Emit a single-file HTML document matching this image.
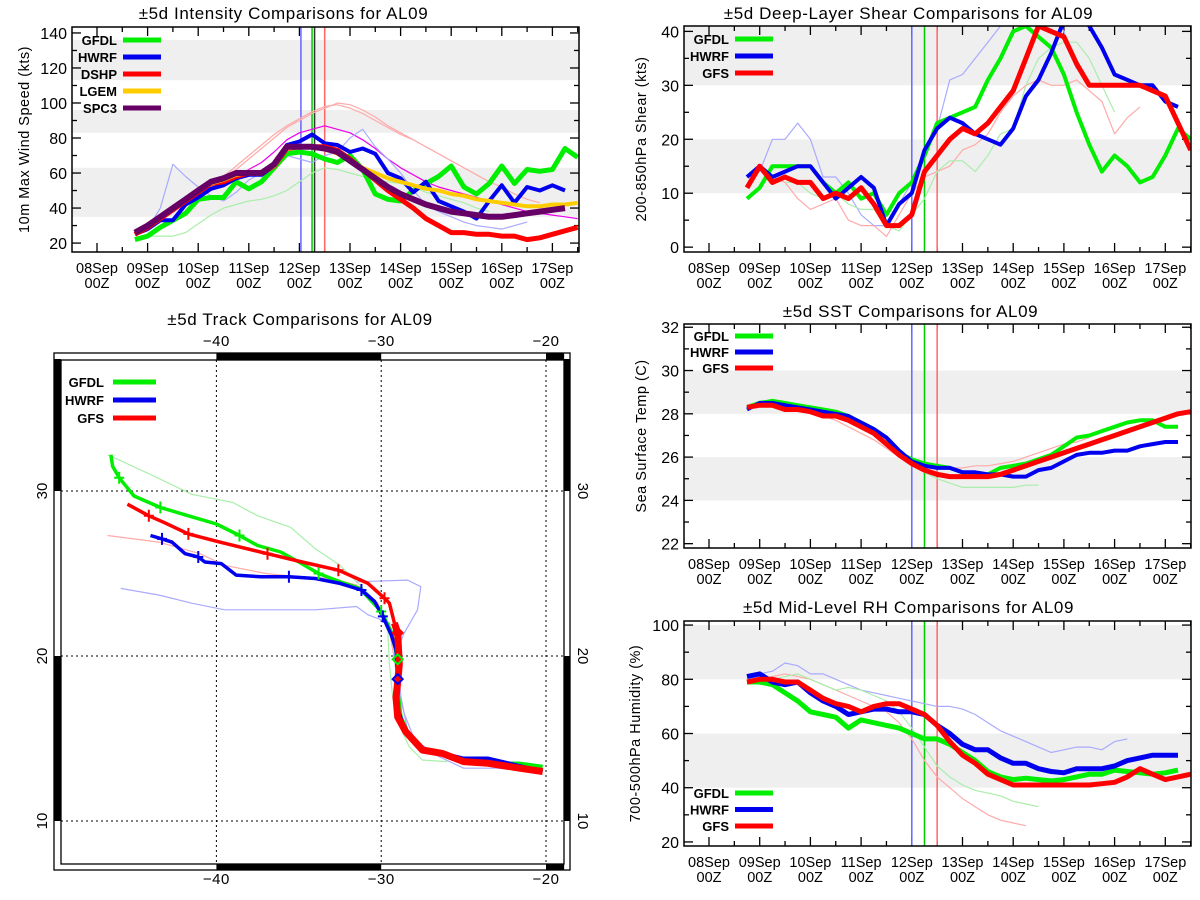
<!DOCTYPE html>
<html><head><meta charset="utf-8"><style>
html,body{margin:0;padding:0;background:#fff;}
svg{display:block;font-family:"Liberation Sans",sans-serif;}
</style></head><body>
<svg id="root" width="1200" height="900" viewBox="0 0 1200 900" xmlns="http://www.w3.org/2000/svg"></svg>
<script>
// ---------- Intensity data (days since 08Sep 00Z, 6h steps) ----------
const intStart = 0.75;
const gfdlInt = [22,24,29,33,37,45,46,46,55,51,55,63,71,72,71,68,66,70,62,48,45,44,50,54,58,64,52,48,54,64,54,62,61,62,74,69];
const hwrfInt = [25,28,33,33,42,46,51,53,57,59,59,64,76,78,82,77,76,72,74,71,60,57,49,55,44,41,38,34,44,53,43,52,50,53,50];
const dshpInt = [25,29,34,39,44,49,54,55,58,60,60,64,74,75,75,75,73,68,62,56,50,45,40,34,30,26,26,25,25,24,24,22,23,25,27,29];
const lgemStart = 2.0;
const lgemInt = [50,54,56,59,60,60,64,74,75,75,74,71,67,63,60,57,55,53,51,50,48,47,45,44,43,42,41,41,42,42,43];
const spc3Int = [26,30,35,40,45,50,55,57,60,60,60,65,75,75,75,74,72,67,62,57,52,48,45,42,40,38,37,36,35,35,36,37,38,39,40];
const faintIntRed1 = [47,52,58,64,70,76,82,87,91,95,98,99,97,94,90,86,82,79];
const faintIntRed2 = [50,56,62,68,74,80,86,90,94,97,100,99,96,92,87,83,79,75,71,67,63,59,55,52,48,45,43];
const faintIntMag = [50,55,58,62,66,72,79,83,85,87,85,83,79,74,68,63,59,55,52,50,48,46,44,42,40,38,37,36,35,34];
const faintIntBlue = [28,40,65,58,52,47,44,49,56,60,65,70,68,66,70,72,80,85,75,68,60,50,42,38,35,32,30,29,28,30,32];
const faintIntGreen = [24,24,24,26,31,36,40,42,44,45,47,50,55,60,63,62,60,58,56,55,54,52,49,47,45,43,40,38];
// ---------- Shear data ----------
const shearStart = 0.75;
const gfdlShear = [9,11,15,15,15,15,12,10,12,9,10,6,10,12,17,23,24,25,26,31,35,40,41,39,37,32,25,19,14,17,15,12,13,17,22,20];
const hwrfShear = [13,15,13,14,15,15,12,9,11,13,11,4,8,10,18,22,24,23,21,20,19,22,28,31,36,42,46,41,37,32,31,30,30,27,26];
const gfsShear = [11,15,12,13,12,12,9,10,9,11,8,4,4,6,14,17,20,22,21,23,26,29,35,41,40,39,34,30,30,30,30,30,29,28,23,18];
const faintShearBlue = [14,20,20,23,20,13,13,10,6,4,4,8,12,18,22,31,32,35,38,41,44,46,47,44,40,33];
const faintShearRed = [13,12,9,7,8,9,5,4,4,2,6,10,13,14,15,18,19,21,25,28,30,31,30,30,31,29,27,21,24,26];
const faintShearGreen = [12,12,10,9,10,8,7,7,4,3,6,9,14,16,16,14,17,21,22,30,35,37,38,38,35,30,25];
// ---------- SST data ----------
const sstStart = 0.75;
const gfdlSst = [28.3,28.5,28.6,28.5,28.4,28.3,28.2,28.1,27.9,27.6,27.3,26.9,26.2,25.9,25.7,25.6,25.5,25.3,25.2,25.2,25.5,25.6,25.7,25.9,26.1,26.5,26.9,27.0,27.2,27.4,27.6,27.7,27.7,27.4,27.4];
const hwrfSst = [28.2,28.5,28.5,28.4,28.3,28.2,28.1,28.0,27.9,27.6,27.3,26.9,26.3,25.8,25.6,25.5,25.5,25.3,25.3,25.2,25.2,25.1,25.1,25.4,25.5,25.8,26.1,26.2,26.2,26.3,26.3,26.5,26.6,26.7,26.7];
const gfsSst = [28.3,28.4,28.4,28.2,28.2,28.1,27.9,27.9,27.7,27.4,27.1,26.6,26.1,25.7,25.4,25.2,25.1,25.1,25.1,25.1,25.2,25.4,25.6,25.8,26.0,26.2,26.4,26.6,26.8,27.0,27.2,27.4,27.6,27.8,28.0,28.1];
const faintSstGreen = [28.4,28.6,28.6,28.5,28.4,28.3,28.2,28.1,27.9,27.6,27.2,26.6,26.0,25.6,25.3,25.0,24.8,24.6,24.6,24.6,24.6,24.6,24.7,24.7];
const faintSstRed = [28.3,28.4,28.3,28.2,28.1,27.9,27.7,27.4,27.1,26.8,26.4,26.0,25.8,25.6,25.5,25.5,25.5,25.6,25.6,25.7,25.8,26.0,26.2,26.4,26.6,26.7,26.9];
// ---------- RH data ----------
const rhStart = 0.75;
const gfdlRh = [79,79,78,75,72,68,67,66,62,65,64,63,62,60,58,58,56,53,50,46,44,43,43.5,43,42.5,43,44,45,45,46.5,46,45.5,45,45.5,46.5];
const hwrfRh = [81,82,79,78,79,75,72,70,67,68,69,69,68,68,67,63,60,56,54,54,51,49,49,47,46,45.5,47,47,47,48,50,51,52,52,52];
const gfsRh = [79,80,80,79,79,76,73,71,70,68,70,71,71,69,67,63,57,52,49,45,43,41,41,41,41,41,41,41,41.5,42,44,47,45,43,44,45];
const faintRhBlue = [82,83,86,85,82,82,80,78,76,75,74,73,72,71,70,70,69,67,64,61,59,57,55,53,54,55,55,54,57,58];
const faintRhRed = [80,81,82,81,80,78,76,74,72,70,68,64,58,50,44,40,36,33,30,28,27,26];
const faintRhGreen = [79,80,81,82,80,78,76,77,76,74,72,68,62,55,48,44,41,39,38,37,35,34,33];
// ---------- Track data (lon, lat) ----------
const gfdlLon = [-46.4,-46.3,-45.9,-45.0,-43.4,-41.7,-40.0,-38.6,-37.5,-36.1,-35.0,-33.8,-32.5,-31.3,-30.0,-29.4,-29.0,-29.0,-28.8,-28.3,-27.5,-26.3,-25.0,-23.5,-21.6,-20.2];
const gfdlLat = [32.2,31.5,30.8,29.7,29.0,28.5,28.0,27.3,26.7,26.3,25.7,25.0,24.5,24.1,22.7,21.5,19.8,17.9,16.3,15.2,14.4,14.2,13.6,13.5,13.5,13.3];
const hwrfLon = [-44.0,-43.3,-42.7,-41.9,-41.1,-40.7,-39.7,-38.8,-37.3,-35.6,-34.0,-32.5,-31.2,-30.4,-29.9,-29.4,-29.1,-29.0,-29.0,-28.5,-27.5,-26.2,-25.0,-23.5,-21.8,-20.2];
const hwrfLat = [27.3,27.1,26.9,26.2,26.0,25.7,25.6,24.9,24.8,24.8,24.7,24.4,24.0,23.3,22.4,21.3,20.4,18.6,16.8,15.4,14.3,14.1,13.8,13.8,13.4,13.0];
const gfsLon = [-45.4,-44.1,-43.2,-41.7,-39.8,-36.9,-34.8,-32.6,-30.8,-29.8,-29.5,-29.2,-29.0,-28.9,-29.0,-29.1,-29.0,-28.5,-27.5,-26.3,-25.0,-23.5,-21.6,-20.2];
const gfsLat = [29.2,28.5,28.1,27.4,26.9,26.2,25.7,25.2,24.4,23.5,23.2,22.0,21.4,19.5,18.4,17.5,16.3,15.4,14.3,14.1,13.6,13.5,13.2,13.0];
const faintTrkGreenLon = [-46.6,-44,-41.5,-39,-37.5,-35.5,-34,-32.5,-31.5,-30.5,-30,-29.6,-29.5,-29.3,-28.9,-28.3,-27.5,-26];
const faintTrkGreenLat = [32.2,31,29.8,29.3,28.5,27.8,26.5,25.5,24.5,23.5,22.5,21.5,19.5,17.5,15.8,14.5,13.7,13.6];
const faintTrkRedLon = [-46.6,-43.5,-41,-39.5,-37,-35,-33,-31.5,-30.2,-29.5,-29.2,-29.0];
const faintTrkRedLat = [27.3,26.9,26.2,25.5,25.0,24.8,24.7,24.3,23.2,21.5,19.8,18.2];
const faintTrkBlueLon = [-45.8,-43.5,-41.5,-39.5,-37,-34,-31.5,-30.8,-29.5,-29.0,-28.8,-28.4,-27.5,-26.5,-25,-23,-20.5];
const faintTrkBlueLat = [24.1,23.7,23.2,22.8,22.8,22.8,23.0,22.5,22.0,19.5,17.5,15.5,14.6,13.9,13.2,13.2,13.0];
const faintTrkBlue2Lon = [-31.5,-28.4,-27.6,-27.8,-28.6,-29.2,-29.0,-28.6,-28.0];
const faintTrkBlue2Lat = [24.5,24.6,24.2,22.8,21.4,20.0,18.0,16.5,15.0];
const gfdlMarkIdx = [2,4,7,11,14];
const hwrfMarkIdx = [1,4,9,12,14];
const gfsMarkIdx = [1,3,5,7,9];

const NS = "http://www.w3.org/2000/svg";
const root = document.getElementById('root');
function el(tag, attrs, parent){
  const e = document.createElementNS(NS, tag);
  for (const k in attrs) e.setAttribute(k, attrs[k]);
  (parent||root).appendChild(e);
  return e;
}
function txt(s, attrs, parent){ const t = el('text', attrs, parent); t.textContent = s; return t; }

let clipId = 0;
function makePanel(p){
  const g = el('g', {});
  
  
  const xs = d => p.xd0 + d * p.ppd;
  const ys = v => p.y1 - (v - p.ymin) / (p.ymax - p.ymin) * (p.y1 - p.y0);
  p.bands.forEach(b => {
    const r = el('rect', {x:p.x0, y:ys(Math.min(b[1],p.ymax)), width:p.x1-p.x0, height:ys(b[0])-ys(Math.min(b[1],p.ymax)), fill:'#efefef'}, g);
    
    
  });
  const t = txt(p.title, {x:(p.x0+p.x1)/2+p.tdx, y:p.ty, 'text-anchor':'middle', 'font-size':17, 'letter-spacing':'0.6'}, g);
  
  
  const cy = (p.y0+p.y1)/2;
  const yt = txt(p.ylabel, {x:p.ylx, y:cy, 'text-anchor':'middle', 'font-size':14.5, 'letter-spacing':'0.5', transform:`rotate(-90 ${p.ylx} ${cy})`}, g);
  
  
  const half = p.ystep/2;
  for (let k = Math.ceil(p.ymin/half - 1e-6); k*half <= p.ymax + 1e-6; k++){
    const v = k*half;
    const major = (k % 2 === 0);
    const L = major ? 9 : 5; const y = ys(v);
    el('line', {x1:p.x0, x2:p.x0+L, y1:y, y2:y, stroke:'#000', 'stroke-width':1.3}, g);
    el('line', {x1:p.x1, x2:p.x1-L, y1:y, y2:y, stroke:'#000', 'stroke-width':1.3}, g);
    if (major){
      const lb = txt(String(Math.round(v)), {x:p.x0-5, y:y+6, 'text-anchor':'end', 'font-size':16}, g);
      
      
    }
  }
  const days = ['08Sep','09Sep','10Sep','11Sep','12Sep','13Sep','14Sep','15Sep','16Sep','17Sep'];
  for (let d = -0.5; d <= 9.5; d += 0.5){
    const x = xs(d); if (x < p.x0 || x > p.x1) continue;
    const major = Number.isInteger(d); const L = major ? 9 : 5;
    el('line', {x1:x, x2:x, y1:p.y1, y2:p.y1-L, stroke:'#000', 'stroke-width':1.3}, g);
    el('line', {x1:x, x2:x, y1:p.y0, y2:p.y0+L, stroke:'#000', 'stroke-width':1.3}, g);
  }
  days.forEach((s, i) => {
    const x = xs(i);
    const a = txt(s, {x:x, y:p.y1+21, 'text-anchor':'middle', 'font-size':14.5}, g);
    
    
    const b = txt('00Z', {x:x, y:p.y1+36, 'text-anchor':'middle', 'font-size':14.5}, g);
    
    
  });
  clipId++;
  const cp = el('clipPath', {id:'c'+clipId}, g);
  el('rect', {x:p.x0, y:p.y0, width:p.x1-p.x0, height:p.y1-p.y0}, cp);
  const plot = el('g', {'clip-path':`url(#c${clipId})`}, g);
  
  
  p.vlines.forEach(v => {
    const l = el('line', {x1:xs(v[0]), x2:xs(v[0]), y1:p.y0, y2:p.y1, stroke:v[1], 'stroke-width':1.5}, plot);
    
    
  });
  p.series.forEach(s => {
    const pts = s.v.map((v, i) => `${xs(s.start + i*0.25).toFixed(1)},${ys(v).toFixed(1)}`).join(' ');
    const pl = el('polyline', {points:pts, fill:'none', stroke:s.c, 'stroke-width':s.w, 'stroke-linejoin':'round', opacity:s.o||1}, plot);
    
    
  });
  el('rect', {x:p.x0, y:p.y0, width:p.x1-p.x0, height:p.y1-p.y0, fill:'none', stroke:'#000', 'stroke-width':1.5}, g);
  p.legend.forEach((L, i) => {
    const y = p.ly + i*p.ldy;
    const lt = txt(L[0], {x:p.lx, y:y+5, 'text-anchor':'end', 'font-size':13, 'font-weight':'bold'}, g);
    
    
    const ll = el('line', {x1:p.lx+6, x2:p.lx+44, y1:y, y2:y, stroke:L[1], 'stroke-width':5}, g);
    
    
  });
}

const G='#00ee00', B='#0000ee', R='#ff0000', O='#ffcc00', P='#660066';
makePanel({name:'intensity-panel', x0:72, x1:579, y0:27, y1:252, xd0:97, ppd:50.6, ymin:14.9, ymax:143.4, ystep:20,
  title:'±5d Intensity Comparisons for AL09', tdx:-42, ty:19, ylabel:'10m Max Wind Speed (kts)', ylx:29,
  bands:[[35,63],[83,96],[113,136]], vlines:[[4.03,'#6666ff'],[4.25,'#00cc00'],[4.3,'#333'],[4.5,'#ff6666']],
  series:[
    {n:'faint-dshp-member', start:2.0, v:faintIntRed1, c:'#ffaaaa', w:1.2},
    {n:'faint-dshp-member', start:2.25, v:faintIntRed2, c:'#ffaaaa', w:1.2},
    {n:'faint-spc3-member', start:2.25, v:faintIntMag, c:'#ee00ee', w:1.2},
    {n:'faint-hwrf-member', start:1.0, v:faintIntBlue, c:'#aaaaff', w:1.2},
    {n:'faint-gfdl-member', start:1.0, v:faintIntGreen, c:'#aaeeaa', w:1.2},
    {n:'gfdl-intensity-line', start:intStart, v:gfdlInt, c:G, w:5},
    {n:'hwrf-intensity-line', start:intStart, v:hwrfInt, c:B, w:4},
    {n:'dshp-intensity-line', start:intStart, v:dshpInt, c:R, w:5},
    {n:'lgem-intensity-line', start:lgemStart, v:lgemInt, c:O, w:4},
    {n:'spc3-intensity-line', start:intStart, v:spc3Int, c:P, w:6}],
  legend:[['GFDL',G],['HWRF',B],['DSHP',R],['LGEM',O],['SPC3',P]], lx:117, ly:40, ldy:17});
makePanel({name:'shear-panel', x0:684, x1:1191, y0:26, y1:252, xd0:709, ppd:50.7, ymin:-0.9, ymax:41.0, ystep:10,
  title:'±5d Deep-Layer Shear Comparisons for AL09', tdx:-29, ty:19, ylabel:'200-850hPa Shear (kts)', ylx:646,
  bands:[[10,20],[30,41]], vlines:[[4.0,'#6666ff'],[4.25,'#00cc00'],[4.5,'#ff6666']],
  series:[
    {n:'faint-hwrf-member', start:1.0, v:faintShearBlue, c:'#aaaaff', w:1.2},
    {n:'faint-gfs-member', start:1.25, v:faintShearRed, c:'#ffaaaa', w:1.2},
    {n:'faint-gfdl-member', start:1.5, v:faintShearGreen, c:'#aaeeaa', w:1.2},
    {n:'gfdl-shear-line', start:shearStart, v:gfdlShear, c:G, w:4},
    {n:'hwrf-shear-line', start:shearStart, v:hwrfShear, c:B, w:4},
    {n:'gfs-shear-line', start:shearStart, v:gfsShear, c:R, w:5}],
  legend:[['GFDL',G],['HWRF',B],['GFS',R]], lx:729, ly:39, ldy:17});
makePanel({name:'sst-panel', x0:684, x1:1191, y0:324, y1:548, xd0:709, ppd:50.7, ymin:21.8, ymax:32.15, ystep:2,
  title:'±5d SST Comparisons for AL09', tdx:-27, ty:317, ylabel:'Sea Surface Temp (C)', ylx:646,
  bands:[[24,26],[28,30]], vlines:[[4.0,'#6666ff'],[4.25,'#00cc00'],[4.5,'#ff6666']],
  series:[
    {n:'faint-gfdl-member', start:0.75, v:faintSstGreen, c:'#aaeeaa', w:1.2},
    {n:'faint-gfs-member', start:1.0, v:faintSstRed, c:'#ffaaaa', w:1.2},
    {n:'gfdl-sst-line', start:sstStart, v:gfdlSst, c:G, w:4},
    {n:'hwrf-sst-line', start:sstStart, v:hwrfSst, c:B, w:4},
    {n:'gfs-sst-line', start:sstStart, v:gfsSst, c:R, w:5}],
  legend:[['GFDL',G],['HWRF',B],['GFS',R]], lx:729, ly:336, ldy:16});
makePanel({name:'rh-panel', x0:684, x1:1191, y0:621, y1:846, xd0:709, ppd:50.7, ymin:18.5, ymax:101.5, ystep:20,
  title:'±5d Mid-Level RH Comparisons for AL09', tdx:-29, ty:613, ylabel:'700-500hPa Humidity (%)', ylx:640,
  bands:[[40,60],[80,100]], vlines:[[4.0,'#6666ff'],[4.25,'#00cc00'],[4.5,'#ff6666']],
  series:[
    {n:'faint-hwrf-member', start:1.0, v:faintRhBlue, c:'#aaaaff', w:1.2},
    {n:'faint-gfs-member', start:1.0, v:faintRhRed, c:'#ffaaaa', w:1.2},
    {n:'faint-gfdl-member', start:1.0, v:faintRhGreen, c:'#aaeeaa', w:1.2},
    {n:'gfdl-rh-line', start:rhStart, v:gfdlRh, c:G, w:5},
    {n:'hwrf-rh-line', start:rhStart, v:hwrfRh, c:B, w:5},
    {n:'gfs-rh-line', start:rhStart, v:gfsRh, c:R, w:5}],
  legend:[['GFDL',G],['HWRF',B],['GFS',R]], lx:729, ly:793, ldy:16.5});

(function(){
  const g = el('g', {});
  
  
  const lx = lon => 546 + (lon + 20) * 16.48;
  const ly = lat => 656 - (lat - 20) * 16.5;
  const X0=61, X1=564, Y0=360, Y1=864, OX0=54, OX1=570, OY0=353, OY1=870;
  const t = txt('±5d Track Comparisons for AL09', {x:300, y:325, 'text-anchor':'middle', 'font-size':17, 'letter-spacing':'0.6'}, g);
  
  
  el('rect', {x:OX0, y:OY0, width:OX1-OX0, height:OY1-OY0, fill:'none', stroke:'#000', 'stroke-width':1.3}, g);
  const lonB = [[-40,-30],[-20,-18.9]];
  lonB.forEach(b => {
    const a = Math.max(lx(b[0]), X0), c = Math.min(lx(b[1]), X1+6);
    el('rect', {x:a, y:OY0, width:c-a, height:Y0-OY0, fill:'#000'}, g);
    el('rect', {x:a, y:Y1, width:c-a, height:OY1-Y1, fill:'#000'}, g);
  });
  const latB = [[30,38],[10,20]];
  latB.forEach(b => {
    const a = Math.max(ly(b[1]), Y0-6), c = Math.min(ly(b[0]), Y1);
    el('rect', {x:OX0, y:a, width:X0-OX0, height:c-a, fill:'#000'}, g);
    el('rect', {x:X1, y:a, width:OX1-X1, height:c-a, fill:'#000'}, g);
  });
  el('rect', {x:X0, y:Y0, width:X1-X0, height:Y1-Y0, fill:'none', stroke:'#000', 'stroke-width':1.3}, g);
  [-40,-30,-20].forEach(lon => {
    const x = lx(lon);
    const gl = el('line', {x1:x, x2:x, y1:Y0, y2:Y1, stroke:'#000', 'stroke-width':1, 'stroke-dasharray':'2,3'}, g);
    
    
    [346, 884].forEach(y => {
      const l = txt('−' + Math.abs(lon), {x:x, y:y, 'text-anchor':'middle', 'font-size':15, 'letter-spacing':'0.5'}, g);
      
      
    });
  });
  [30,20,10].forEach(lat => {
    const y = ly(lat);
    const gl = el('line', {x1:X0, x2:X1, y1:y, y2:y, stroke:'#000', 'stroke-width':1, 'stroke-dasharray':'2,3'}, g);
    
    
    const a = txt(String(lat), {x:47, y:y, 'text-anchor':'middle', 'font-size':15, transform:`rotate(-90 47 ${y})`}, g);
    
    
    const b = txt(String(lat), {x:578, y:y, 'text-anchor':'middle', 'font-size':15, transform:`rotate(90 578 ${y})`}, g);
    
    
  });
  function track(lons, lats, color, w, name){
    const pts = lons.map((lo, i) => `${lx(lo).toFixed(1)},${ly(lats[i]).toFixed(1)}`).join(' ');
    const pl = el('polyline', {points:pts, fill:'none', stroke:color, 'stroke-width':w, 'stroke-linejoin':'round'}, g);
    
    
  }
  function marks(lons, lats, idx, color){
    idx.forEach(i => {
      const x = lx(lons[i]), y = ly(lats[i]);
      const m = el('path', {d:`M${x-5},${y} H${x+5} M${x},${y-6} V${y+6}`, stroke:color, 'stroke-width':2, fill:'none'}, g);
      
      
    });
  }
  track(faintTrkGreenLon, faintTrkGreenLat, '#aaeeaa', 1.2, 'faint-gfdl-track');
  track(faintTrkRedLon, faintTrkRedLat, '#ffaaaa', 1.2, 'faint-gfs-track');
  track(faintTrkBlueLon, faintTrkBlueLat, '#aaaaff', 1.2, 'faint-hwrf-track');
  track(faintTrkBlue2Lon, faintTrkBlue2Lat, '#aaaaff', 1.2, 'faint-hwrf-track');
  track(gfdlLon, gfdlLat, G, 3.5, 'gfdl-track');
  track(hwrfLon, hwrfLat, B, 3.5, 'hwrf-track');
  track(gfsLon.slice(0,12), gfsLat.slice(0,12), R, 3.5, 'gfs-track');
  track(gfsLon.slice(11), gfsLat.slice(11), R, 7, 'gfs-track-thick');
  marks(gfdlLon, gfdlLat, gfdlMarkIdx, G);
  marks(hwrfLon, hwrfLat, hwrfMarkIdx, B);
  marks(gfsLon, gfsLat, gfsMarkIdx, R);
  [[gfsLon[12], gfsLat[12], R],[gfdlLon[16], gfdlLat[16], G],[hwrfLon[17], hwrfLat[17], B]].forEach(d => {
    const x = lx(d[0]), y = ly(d[1]);
    const dm = el('path', {d:`M${x},${y-5} L${x+5},${y} L${x},${y+5} L${x-5},${y} Z`, fill:'none', stroke:d[2], 'stroke-width':2}, g);
    
    
  });
  [['GFDL',G],['HWRF',B],['GFS',R]].forEach((L, i) => {
    const y = 382 + i*18;
    const lt = txt(L[0], {x:104, y:y+5, 'text-anchor':'end', 'font-size':13, 'font-weight':'bold'}, g);
    
    
    const ll = el('line', {x1:113, x2:156, y1:y, y2:y, stroke:L[1], 'stroke-width':5}, g);
    
    
  });
})();
</script>
</body></html>
